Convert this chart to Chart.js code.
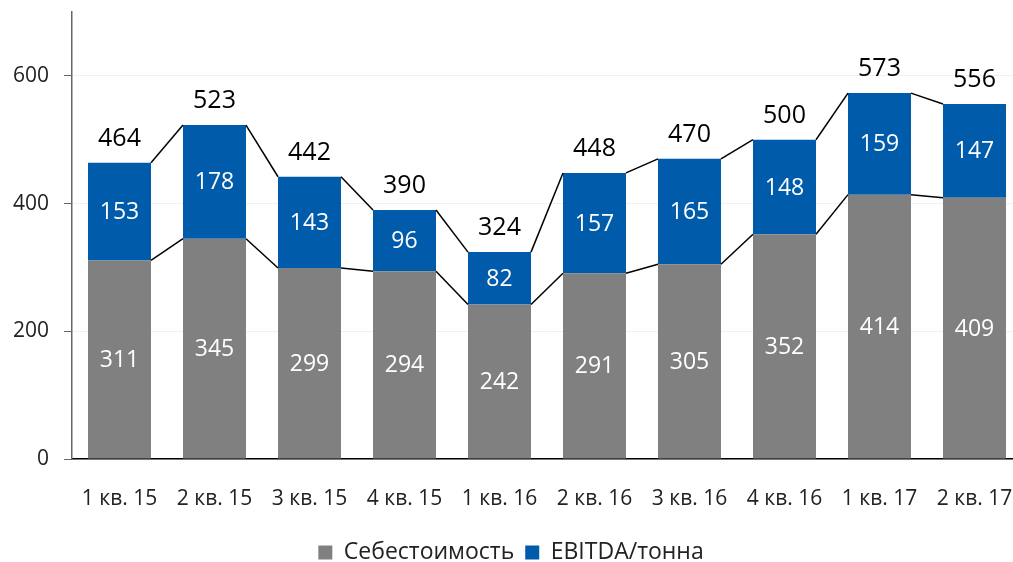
<!DOCTYPE html>
<html>
<head>
<meta charset="utf-8">
<script src="https://cdn.jsdelivr.net/npm/chart.js@4.4.1/dist/chart.umd.min.js"></script>
<style>
  html, body { margin: 0; padding: 0; background: #fff; overflow: hidden; }
  #wrap { width: 1022px; height: 574px; }
</style>
</head>
<body>
<div id="wrap"><canvas id="chart" width="1022" height="574"></canvas></div>
<script>
// quarters
const labels = ["1 кв. 15", "2 кв. 15", "3 кв. 15", "4 кв. 15", "1 кв. 16", "2 кв. 16", "3 кв. 16", "4 кв. 16", "1 кв. 17", "2 кв. 17"];
const cost = [311, 345, 299, 294, 242, 291, 305, 352, 414, 409];
const ebitda = [153, 178, 143, 96, 82, 157, 165, 148, 159, 147];
const yTicks = [0, 200, 400, 600];

const GRAY = "#808080";
const BLUE = "#005BAA";
const FONT = "'Open Sans', 'Noto Sans', sans-serif";

// connector lines + value labels
const decor = {
  id: "decor",
  afterDatasetsDraw(chart) {
    const ctx = chart.ctx;
    const m0 = chart.getDatasetMeta(0).data;
    const m1 = chart.getDatasetMeta(1).data;
    ctx.save();
    ctx.strokeStyle = "#000";
    ctx.lineWidth = 1.5;
    for (let i = 0; i < m0.length - 1; i++) {
      [m0, m1].forEach(m => {
        const a = m[i], b = m[i + 1];
        ctx.beginPath();
        ctx.moveTo(a.x + a.width / 2, a.y);
        ctx.lineTo(b.x - b.width / 2, b.y);
        ctx.stroke();
      });
    }
    ctx.textAlign = "center";
    ctx.textBaseline = "middle";
    ctx.font = "23px " + FONT;
    ctx.fillStyle = "#fff";
    m0.forEach((b, i) => ctx.fillText(cost[i], b.x, (b.y + b.base) / 2 + 1));
    m1.forEach((b, i) => ctx.fillText(ebitda[i], b.x, (b.y + b.base) / 2 + 1));
    ctx.font = "25px " + FONT;
    ctx.fillStyle = "#000";
    m1.forEach((b, i) => ctx.fillText(cost[i] + ebitda[i], b.x, b.y - 24));
    ctx.restore();
  }
};

new Chart(document.getElementById("chart"), {
  type: "bar",
  data: {
    labels: labels,
    datasets: [
      { label: "Себестоимость", data: cost, backgroundColor: GRAY },
      { label: "EBITDA/тонна", data: ebitda, backgroundColor: BLUE }
    ]
  },
  options: {
    responsive: false,
    animation: false,
    layout: { padding: { top: 12, right: 0, left: 0, bottom: 0 } },
    datasets: { bar: { barPercentage: 0.663, categoryPercentage: 1 } },
    plugins: {
      tooltip: { enabled: false },
      legend: {
        position: "bottom",
        labels: { boxWidth: 14, boxHeight: 14, padding: 11, color: "#222", font: { family: FONT, size: 23 } }
      }
    },
    scales: {
      x: {
        stacked: true,
        grid: { display: false },
        border: { color: "#000", width: 1.5 },
        ticks: { padding: 19, color: "#222", font: { family: FONT, size: 21 } },
        afterFit(s) { s.height = 71; s.paddingLeft = 0; s.paddingRight = 0; }
      },
      y: {
        stacked: true,
        min: 0,
        max: 700,
        afterBuildTicks(s) { s.ticks = yTicks.map(v => ({ value: v })); },
        grid: { color: "#f0f0f0", tickColor: "#666", tickLength: 8 },
        border: { color: "#666", width: 1.5 },
        ticks: { padding: 15, color: "#222", font: { family: FONT, size: 21 } },
        afterFit(s) { s.width = 72; s.paddingTop = 0; s.paddingBottom = 0; }
      }
    }
  },
  plugins: [decor]
});
</script>
</body>
</html>
